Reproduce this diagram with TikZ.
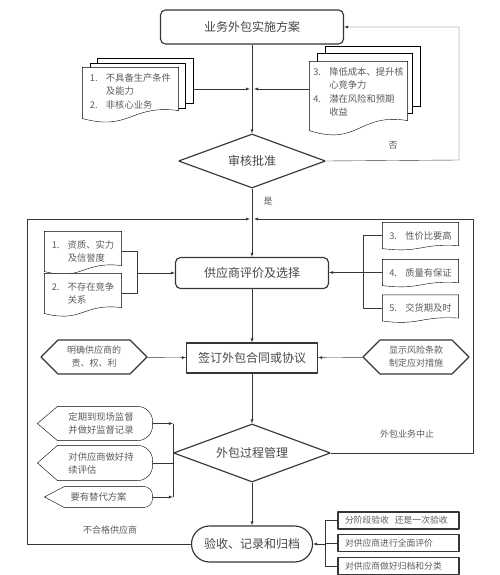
\documentclass[tikz,border=0pt]{standalone}
\usepackage{fontspec}
\setmainfont{Noto Sans CJK SC}
\usetikzlibrary{shapes.geometric,shapes.symbols,calc}
\pgfdeclarelayer{bg}
\pgfsetlayers{bg,main}
\definecolor{linegray}{HTML}{363636}
\definecolor{textgray}{HTML}{474747}
\definecolor{smallgray}{HTML}{5C5C5C}
% document outline with a wavy bottom, optionally reaching below the node
\newcommand{\docwave}[3][0]{%
  \draw[fill=white] ($(#2.south west)+(0,#1)$) -- (#2.north west) -- (#2.north east)
    -- ($(#2.south east)+(0,#1-#3)$)
    .. controls ($(#2.south)+(0,#1-1.8*#3)$) and ($(#2.south)+(0,#1+1.6*#3)$) .. ($(#2.south west)+(0,#1)$);}
% display outline: pointed left, round right
\newcommand{\dispwave}[2]{%
  \draw[fill=white] (#1.west) -- ($(#1.north west)+(20,0)$)
    [rounded corners=#2] -- (#1.north east) -- (#1.south east)
    [sharp corners] -- ($(#1.south west)+(20,0)$) -- cycle;}
\newcommand{\nb}[1]{\makebox[16pt][l]{#1}}
\begin{document}
\begin{tikzpicture}[>=latex,line join=bevel,x=1pt,y=-1pt,color=linegray,line width=1.15pt,
    mainbox/.style={draw,rounded corners=5pt,inner sep=0pt,text=textgray,font=\fontsize{12}{14}\selectfont},
    plainbox/.style={mainbox,rounded corners=0pt},
    decision/.style={draw,diamond,aspect=2.7,inner sep=0pt,text=textgray,font=\fontsize{12}{14}\selectfont},
    docnode/.style={inner sep=0pt,align=left,text=smallgray,font=\fontsize{9.3}{13.5}\selectfont},
    docback/.style={draw,fill=white,inner sep=0pt},
    hexa/.style={draw,signal,signal to=west and east,inner sep=0pt,align=center,text=smallgray,font=\fontsize{9}{13}\selectfont},
    dispnode/.style={inner sep=0pt,text=smallgray,font=\fontsize{9.3}{13}\selectfont},
    itembox/.style={draw,inner xsep=7pt,inner ysep=0pt,text width=107pt,align=left,minimum height=17pt,text=smallgray,font=\fontsize{8.8}{10}\selectfont},
    note/.style={text=smallgray,font=\fontsize{9}{10}\selectfont}]
    %%
    \useasboundingbox (0,0) rectangle (500,575);
    \node[mainbox,minimum width=183pt,minimum height=34pt] (plan) at (252,27) {业务外包实施方案};
    \node[docnode,minimum width=95pt,minimum height=46pt] (ldoc) at (130.5,91) {\nb{1.}不具备生产条件\\\nb{}及能力\\\nb{2.}非核心业务};
    \node[docnode,minimum width=97pt,minimum height=60pt] (rdoc) at (358.5,92) {\nb{3.}降低成本、提升核\\\nb{}心竞争力\\\nb{4.}潜在风险和预期\\\nb{}收益};
    \node[decision,minimum width=147pt,minimum height=54pt] (appr) at (252,161) {审核批准};
    \node[note] (no) at (393,145) {否};
    \node[note] (yes) at (268,201) {是};
    \node[mainbox,minimum width=153pt,minimum height=31pt] (sel) at (252,273) {供应商评价及选择};
    \node[docnode,minimum width=76pt,minimum height=39pt] (ldoc1) at (83,251.5) {\nb{1.}资质、实力\\\nb{}及信誉度};
    \node[docnode,minimum width=76pt,minimum height=39pt] (ldoc2) at (83,293.5) {\nb{2.}不存在竞争\\\nb{}关系};
    \node[docnode,minimum width=75pt,minimum height=25pt] (rdoc1) at (420.5,235.5) {\nb{3.}性价比要高};
    \node[docnode,minimum width=75pt,minimum height=25pt] (rdoc2) at (420.5,272.5) {\nb{4.}质量有保证};
    \node[docnode,minimum width=75pt,minimum height=25pt] (rdoc3) at (420.5,308) {\nb{5.}交货期及时};
    \node[plainbox,minimum width=131pt,minimum height=30pt] (ctr) at (252,358) {签订外包合同或协议};
    \node[hexa,minimum width=106pt,minimum height=34pt] (lhex) at (94,357) {明确供应商的\\责、权、利};
    \node[hexa,minimum width=106pt,minimum height=34pt] (rhex) at (416,357) {显示风险条款\\制定应对措施};
    \node[decision,minimum width=157pt,minimum height=58pt] (mgmt) at (252,453) {外包过程管理};
    \node[dispnode,align=center,minimum width=114pt,minimum height=33pt] (sv1) at (95,423.5) {\hspace{12pt}定期到现场监督\\\hspace{12pt}并做好监督记录};
    \node[dispnode,align=left,minimum width=114pt,minimum height=34pt] (sv2) at (95,463) {\hspace{12pt}对供应商做好持\\\hspace{12pt}续评估};
    \node[dispnode,minimum width=107pt,minimum height=20pt] (sv3) at (98.5,497) {要有替代方案};
    \node[note] (stop) at (407,434) {外包业务中止};
    \node[note] (unq) at (110,530) {不合格供应商};
    \node[mainbox,rounded corners=18pt,minimum width=121pt,minimum height=36pt] (acc) at (252,544) {验收、记录和归档};
    \node[itembox] (chk1) at (398.5,520.5) {分阶段验收\ \ 还是一次验收};
    \node[itembox] (chk2) at (398.5,543) {对供应商进行全面评价};
    \node[itembox] (chk3) at (398.5,566) {对供应商做好归档和分类};
    %
    \begin{pgfonlayer}{bg}
    \node[docback,minimum width=96pt,minimum height=45pt] (ldocb1) at (145,80.5) {};
    \node[docback,minimum width=95pt,minimum height=45pt] (ldocb2) at (137.5,85.5) {};
    \docwave[4]{ldoc}{8}
    \node[docback,minimum width=95pt,minimum height=60pt] (rdocb1) at (372.5,76) {};
    \node[docback,minimum width=95pt,minimum height=60pt] (rdocb2) at (364.5,83) {};
    \docwave[8]{rdoc}{10}
    \docwave{ldoc1}{6}
    \docwave{ldoc2}{6}
    \docwave{rdoc1}{3}
    \docwave{rdoc2}{3}
    \docwave{rdoc3}{3}
    \dispwave{sv1}{15pt}
    \dispwave{sv2}{15pt}
    \dispwave{sv3}{9pt}
    \end{pgfonlayer}
    %
    \coordinate (jn1) at (252,89);
    \coordinate (jn2) at (252,219);
    \coordinate (fbno) at (459,160);
    \coordinate (lout) at (27,544);
    \coordinate (rout) at (473,453);
    \coordinate (lbrk) at (137,273);
    \coordinate (rbrk) at (363,272.5);
    \coordinate (abrk) at (325,544);
    \draw[->] (plan) -- (appr);
    \draw[->] (ldocb1.east |- jn1) -- ([xshift=-2pt]jn1);
    \draw[->] (rdoc.west |- jn1) -- ([xshift=2pt]jn1);
    \draw[->] (appr.east) -- (fbno) |- (plan.east);
    \draw[->] (appr) -- (sel);
    \draw[->] (acc.west) -- (lout) |- ([xshift=-2pt]jn2);
    \draw[->] (mgmt.east) -- (rout) |- ([xshift=2pt]jn2);
    \draw (ldoc1.east) -- (ldoc1.east -| lbrk) -- (ldoc2.east -| lbrk) -- (ldoc2.east);
    \draw[->] (lbrk) -- (sel.west |- lbrk);
    \draw (rdoc1.west) -- (rdoc1.west -| rbrk) -- (rdoc3.west -| rbrk) -- (rdoc3.west);
    \draw (rdoc2.west) -- (rbrk);
    \draw[->] (rbrk) -- (sel.east |- rbrk);
    \draw[->] (sel) -- (ctr);
    \draw[->] (lhex) -- (ctr);
    \draw[->] (rhex) -- (ctr);
    \draw[->] (ctr) -- (mgmt);
    \draw[->] (sv1.east) -- (sv1.east -| mgmt.west);
    \draw[->] (sv3.east) -- (sv3.east -| mgmt.west);
    \draw (sv1.east -| mgmt.west) -- (sv3.east -| mgmt.west);
    \draw (sv2.east) -- (sv2.east -| mgmt.west);
    \draw[->] (mgmt) -- (acc);
    \draw (chk1.west) -- (chk1.west -| abrk) -- (chk3.west -| abrk) -- (chk3.west);
    \draw (chk2.west) -- (chk2.west -| abrk);
    \draw[->] (abrk) -- (acc.east);
    %
\end{tikzpicture}
\end{document}
